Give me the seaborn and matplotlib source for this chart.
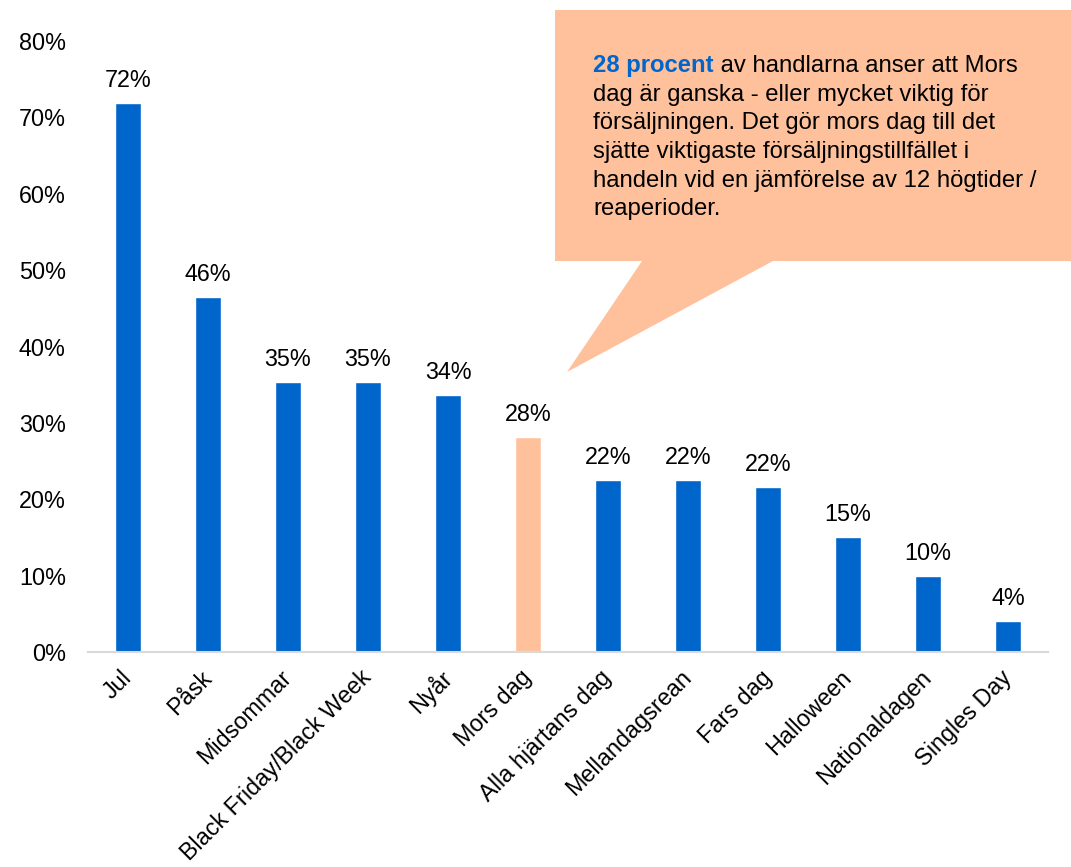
import matplotlib
matplotlib.use("Agg")
import matplotlib.pyplot as plt
import seaborn as sns
import pandas as pd
from matplotlib.patches import Polygon
from matplotlib.ticker import PercentFormatter

# Survey data: share of retailers rating each occasion as important
categories = [
    "Jul", "Påsk", "Midsommar", "Black Friday/Black Week", "Nyår", "Mors dag",
    "Alla hjärtans dag", "Mellandagsrean", "Fars dag", "Halloween",
    "Nationaldagen", "Singles Day",
]
shares = [0.719, 0.465, 0.354, 0.354, 0.336, 0.281, 0.225, 0.225, 0.216, 0.150, 0.099, 0.041]
highlight = "Mors dag"

callout_bold = "28 procent"
callout_lines = [
    " av handlarna anser att Mors",
    "dag är ganska - eller mycket viktig för",
    "försäljningen. Det gör mors dag till det",
    "sjätte viktigaste försäljningstillfället i",
    "handeln vid en jämförelse av 12 högtider /",
    "reaperioder.",
]

BLUE = "#0066CC"
PEACH = "#FFC19C"
FS = 16.8
FS_NOTE = 17.2


def main():
    sns.set_style("white")
    plt.rcParams["font.family"] = ["Liberation Sans", "DejaVu Sans"]
    plt.rcParams["text.color"] = "black"

    df = pd.DataFrame({"category": categories, "share": shares})
    palette = {c: (PEACH if c == highlight else BLUE) for c in categories}

    W, H = 1071, 867
    fig = plt.figure(figsize=(W / 100, H / 100), dpi=100)
    ax = fig.add_axes([88 / W, 1 - 652 / H, 960 / W, (652 - 41) / H])

    sns.barplot(
        data=df, x="category", y="share", hue="category",
        palette=palette, legend=False, width=0.33, ax=ax, saturation=1,
    )
    ax.set_ylim(0, 0.8)
    ax.set_xlim(-0.5, len(categories) - 0.5)
    ax.yaxis.set_major_formatter(PercentFormatter(1.0, decimals=0))
    ax.set_yticks([i / 10 for i in range(9)])
    ax.set_xlabel("")
    ax.set_ylabel("")

    for s in ["top", "right", "left"]:
        ax.spines[s].set_visible(False)
    ax.spines["bottom"].set_color("#D9D9D9")
    ax.spines["bottom"].set_linewidth(1.5)
    ax.tick_params(axis="both", length=0, labelsize=FS, colors="black")
    ax.tick_params(axis="y", pad=16)
    for lbl in ax.get_xticklabels():
        lbl.set_rotation(45)
        lbl.set_ha("right")
        lbl.set_va("center")
        lbl.set_rotation_mode("anchor")
    ax.tick_params(axis="x", pad=16)

    for container in ax.containers:
        ax.bar_label(container, labels=[f"{v * 100:.0f}%" for v in container.datavalues],
                     padding=8, fontsize=FS, color="black")

    # Speech-bubble callout
    pts = [(555, 10), (W, 10), (W, 261), (773, 261), (567, 372), (642, 261), (555, 261)]
    bubble = Polygon([(x / W, 1 - y / H) for x, y in pts], closed=True,
                     facecolor=PEACH, edgecolor="none", transform=fig.transFigure, zorder=5)
    fig.patches.append(bubble)

    y0 = 72
    step = 28.7
    t1 = fig.text(593 / W, 1 - y0 / H, callout_bold, color=BLUE, fontweight="bold",
                  fontsize=FS_NOTE, va="baseline", zorder=6)
    fig.canvas.draw()
    bb = t1.get_window_extent()
    fig.text(bb.x1 / W, 1 - y0 / H, callout_lines[0], fontsize=FS_NOTE, va="baseline", zorder=6)
    for i, line in enumerate(callout_lines[1:], start=1):
        fig.text(593 / W, 1 - (y0 + i * step) / H, line, fontsize=FS_NOTE, va="baseline", zorder=6)

    fig.savefig("out.png", dpi=100)


if __name__ == "__main__":
    main()
